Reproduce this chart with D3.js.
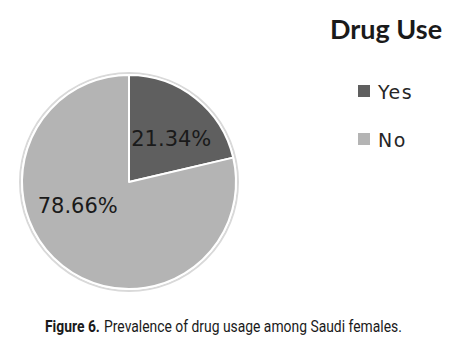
<!DOCTYPE html>
<html>
<head>
<meta charset="utf-8">
<script src="https://cdn.jsdelivr.net/npm/d3@7"></script>
<style>
  body { margin: 0; background: #fff; }
  svg { display: block; }
</style>
</head>
<body>
<div id="chart"></div>
<script>
// datos
const categories = ["Yes", "No"]
const values = [21.34, 78.66]
const labels = ["21.34%", "78.66%"]
const legendTitle = "Drug Use"
const captionBold = "Figure 6."
const captionText = "Prevalence of drug usage among Saudi females."

const width = 460, height = 348
const cx = 129, cy = 182, radius = 107

const color = d3.scaleOrdinal()
  .domain(categories)
  .range(["#5f5f5f", "#b4b4b4"])

const svg = d3.select("#chart")
  .append("svg")
  .attr("width", width)
  .attr("height", height)

const pieG = svg.append("g")
  .attr("transform", `translate(${cx}, ${cy})`)

const pie = d3.pie().sort(null).value(d => d.v)
const arcs = pie(categories.map((c, i) => ({ c, v: values[i], label: labels[i] })))

const arc = d3.arc().innerRadius(0).outerRadius(radius)

// sombra / borde exterior
pieG.append("circle")
  .attr("r", radius + 2)
  .attr("fill", "none")
  .attr("stroke", "#d9d9d9")
  .attr("stroke-width", 2)

pieG.selectAll("path")
  .data(arcs)
  .enter()
  .append("path")
  .attr("d", arc)
  .attr("fill", d => color(d.data.c))
  .attr("stroke", "#fff")
  .attr("stroke-width", 2)
  .attr("stroke-linejoin", "round")

// etiquetas (best fit tipo Excel: desplazamiento por etiqueta)
const labelArc = d3.arc().innerRadius(60).outerRadius(60)
const labelNudge = [[5, 5], [-14, -22]]
pieG.selectAll("text.pct")
  .data(arcs)
  .enter()
  .append("text")
  .attr("class", "pct")
  .attr("x", (d, i) => labelArc.centroid(d)[0] + labelNudge[i][0])
  .attr("y", (d, i) => labelArc.centroid(d)[1] + labelNudge[i][1])
  .attr("text-anchor", "middle")
  .attr("dominant-baseline", "middle")
  .style("font-family", "DejaVu Sans")
  .style("font-size", "21px")
  .attr("fill", "#1a1a1a")
  .text(d => d.data.label)

// leyenda
svg.append("text")
  .attr("x", 386)
  .attr("y", 39)
  .attr("text-anchor", "middle")
  .style("font-family", "Lato")
  .style("font-weight", "bold")
  .style("font-size", "27px")
  .attr("fill", "#1a1a1a")
  .text(legendTitle)

const legendY = d3.scalePoint()
  .domain(categories)
  .range([91, 139])

const legend = svg.selectAll("g.legend")
  .data(categories)
  .enter()
  .append("g")
  .attr("class", "legend")
  .attr("transform", d => `translate(358, ${legendY(d)})`)

legend.append("rect")
  .attr("x", 0)
  .attr("y", -6)
  .attr("width", 12)
  .attr("height", 12)
  .attr("fill", d => color(d))

legend.append("text")
  .attr("x", 20)
  .attr("y", 8)
  .style("font-family", "DejaVu Sans")
  .style("font-size", "19px")
  .style("letter-spacing", "1.5px")
  .attr("fill", "#262626")
  .text(d => d)

// pie de figura: Roboto estrechado para parecer "condensed"
const capG = svg.append("g")
const capBold = capG.append("text")
  .attr("x", 0)
  .attr("y", 0)
  .style("font-family", "Roboto")
  .style("font-weight", "bold")
  .style("font-size", "17px")
  .attr("fill", "#1a1a1a")
  .text(captionBold)
const boldW = capBold.node().getComputedTextLength()
const capRest = capG.append("text")
  .attr("x", boldW + 5)
  .attr("y", 0)
  .style("font-family", "Roboto")
  .style("font-size", "17px")
  .attr("fill", "#1a1a1a")
  .text(captionText)
const totalW = boldW + 5 + capRest.node().getComputedTextLength()
const sx = 357 / totalW
capG.attr("transform", `translate(45, 332) scale(${sx}, 1)`)
</script>
</body>
</html>
